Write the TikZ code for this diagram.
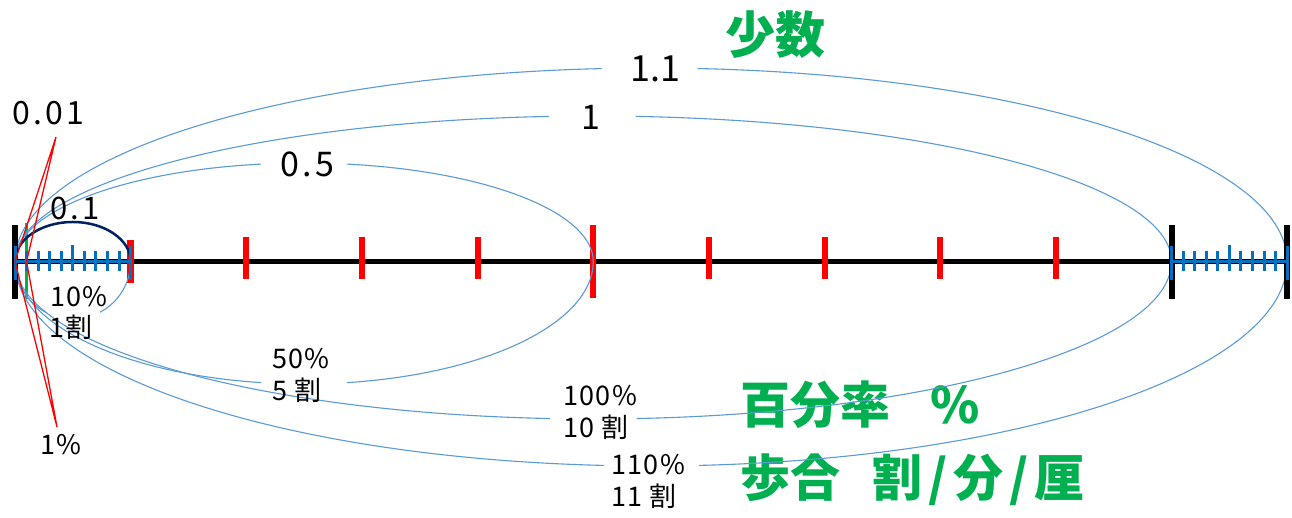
\documentclass[tikz,border=0pt]{standalone}
\usepackage{fontspec}
\setmainfont{Noto Sans CJK JP}
\definecolor{curveblue}{HTML}{5B9BD5}
\definecolor{tickblue}{HTML}{0070C0}
\definecolor{navyc}{HTML}{002060}
\definecolor{greenc}{HTML}{00B050}
\definecolor{redc}{HTML}{FF0000}
\begin{document}
\begin{tikzpicture}[x=1pt,y=1pt,
  curve/.style={draw=curveblue, line width=1.1pt},
  navyarc/.style={draw=navyc, line width=2.5pt},
  axisline/.style={draw=black, line width=5.5pt},
  blackmark/.style={draw=black, line width=6pt},
  redmark/.style={draw=redc, line width=6pt},
  greenmark/.style={draw=greenc, line width=3.5pt},
  bluemark/.style={draw=tickblue, line width=3pt},
  blueaxis/.style={draw=tickblue, line width=3.2pt},
  redline/.style={draw=redc, line width=1.3pt},
  bignum/.style={font=\fontsize{#1}{#1}\selectfont\addfontfeature{LetterSpace=10}, inner sep=0pt, anchor=base},
  plainnum/.style={font=\fontsize{#1}{#1}\selectfont, inner sep=0pt, anchor=base},
  smallnum/.style={font=\fontsize{27}{31}\selectfont\addfontfeature{LetterSpace=5}, inner sep=0pt, anchor=base west},
  greentxt/.style={text=greenc, font=\fontsize{50}{56}\selectfont\bfseries, inner sep=0pt}]
\useasboundingbox[fill=white] (0,0) rectangle (1292,518);

% green headings
\node[greentxt] (shosu) at (775,483.5) {少数};
\node[greentxt, anchor=west] (hyakubun) at (740,113) {百分率\hspace{40pt}\%};
\node[greentxt, anchor=west] (buai) at (740,38) {歩合\hspace{32pt}割\hspace{6pt}/\hspace{6pt}分\hspace{6pt}/\hspace{6pt}厘};

% key points
\coordinate (O) at (15,256.5);
\coordinate (E1) at (1171.5,256.5);
\coordinate (E11) at (1287.15,256.5);
\coordinate (c01) at (72.825,256.5);
\coordinate (c05) at (304.125,256.5);
\coordinate (c1) at (593.25,256.5);
\coordinate (c11) at (651.075,256.5);

% axis
\draw[axisline] (O) -- (E11);

% red ticks
\foreach \k in {2,3,4,6,7,8,9}
  \draw[redmark] (15+\k*115.65,239) -- (15+\k*115.65,281);
\draw[redmark, line width=7pt] (130.65,235) -- (130.65,278);
\draw[redmark] (593.25,220) -- (593.25,293);
% green tick
\draw[greenmark] (26.565,219) -- (26.565,295);

% curves
\draw[navyarc] (O) arc[start angle=180, end angle=0, x radius=57.825pt, y radius=39.5pt];
\draw[curve] (O) arc[start angle=180, end angle=243.5, x radius=57.825pt, y radius=57.5pt];
\draw[curve] (c01) ++(298.1:57.825pt and 57.5pt) arc[start angle=298.1, end angle=360, x radius=57.825pt, y radius=57.5pt];

\draw[curve] (O) arc[start angle=180, end angle=98.6, x radius=289.125pt, y radius=98.5pt];
\draw[curve] (c05) ++(81.5:289.125pt and 98.5pt) arc[start angle=81.5, end angle=0, x radius=289.125pt, y radius=98.5pt];
\draw[curve] (O) arc[start angle=180, end angle=261.4, x radius=289.125pt, y radius=122.5pt];
\draw[curve] (c05) ++(278.5:289.125pt and 122.5pt) arc[start angle=278.5, end angle=360, x radius=289.125pt, y radius=122.5pt];

\draw[curve] (O) arc[start angle=180, end angle=94.4, x radius=578.25pt, y radius=145.5pt];
\draw[curve] (c1) ++(85.8:578.25pt and 145.5pt) arc[start angle=85.8, end angle=0, x radius=578.25pt, y radius=145.5pt];
\draw[curve] (O) arc[start angle=180, end angle=265.7, x radius=578.25pt, y radius=157.5pt];
\draw[curve] (c1) ++(274.3:578.25pt and 157.5pt) arc[start angle=274.3, end angle=360, x radius=578.25pt, y radius=157.5pt];

\draw[curve] (O) arc[start angle=180, end angle=94.45, x radius=636.075pt, y radius=193.5pt];
\draw[curve] (c11) ++(85.8:636.075pt and 193.5pt) arc[start angle=85.8, end angle=0, x radius=636.075pt, y radius=193.5pt];
\draw[curve] (O) arc[start angle=180, end angle=265.75, x radius=636.075pt, y radius=204.5pt];
\draw[curve] (c11) ++(274.3:636.075pt and 204.5pt) arc[start angle=274.3, end angle=360, x radius=636.075pt, y radius=204.5pt];

% black ticks
\foreach \x in {15,1171.5,1287.15}
  \draw[blackmark] (\x,219) -- (\x,293);

% blue sub-scales
\foreach \s in {15,1171.5}{
  \draw[blueaxis] (\s,256.5) -- (\s+115.65,256.5);
  \foreach \j in {1,2,3,4,6,7,8,9}
    \draw[bluemark] (\s+\j*11.565,247) -- (\s+\j*11.565,266.5);
  \draw[bluemark] (\s+57.825,247) -- (\s+57.825,273);
  \draw[bluemark] (\s,238) -- (\s,272);
  \draw[bluemark] (\s+115.65,238) -- (\s+115.65,272);
}

% red pointer lines for 0.01 / 1%
\coordinate (rtop) at (56,381);
\coordinate (rbot) at (57,91);
\coordinate (rA) at (15,256.5);
\coordinate (rB) at (26.565,256.5);
\draw[redline] (rA) -- (rtop) -- (rB);
\draw[redline] (rA) -- (rbot) -- (rB);

% decimal labels
\node[bignum=32] (d001) at (48,393) {0.01};
\node[bignum=31] (d01) at (75,298) {0.1};
\node[bignum=34] (d05) at (307,341) {0.5};
\node[plainnum=34] (d1) at (590.5,388) {1};
\node[plainnum=36] (d11) at (655.5,436) {1.1};

% percent / wari labels
\node[smallnum] (p10) at (50,211) {10\%};
\node[smallnum] (w1) at (49,180) {1割};
\node[smallnum] (p50) at (272,149) {50\%};
\node[smallnum] (w5) at (272,117) {5 割};
\node[smallnum] (p100) at (563,112) {100\%};
\node[smallnum] (w10) at (563,80) {10 割};
\node[smallnum] (p110) at (611,43) {110\%};
\node[smallnum] (w11) at (611,11) {11 割};
\node[smallnum] (p1) at (40,63) {1\%};
\end{tikzpicture}
\end{document}
